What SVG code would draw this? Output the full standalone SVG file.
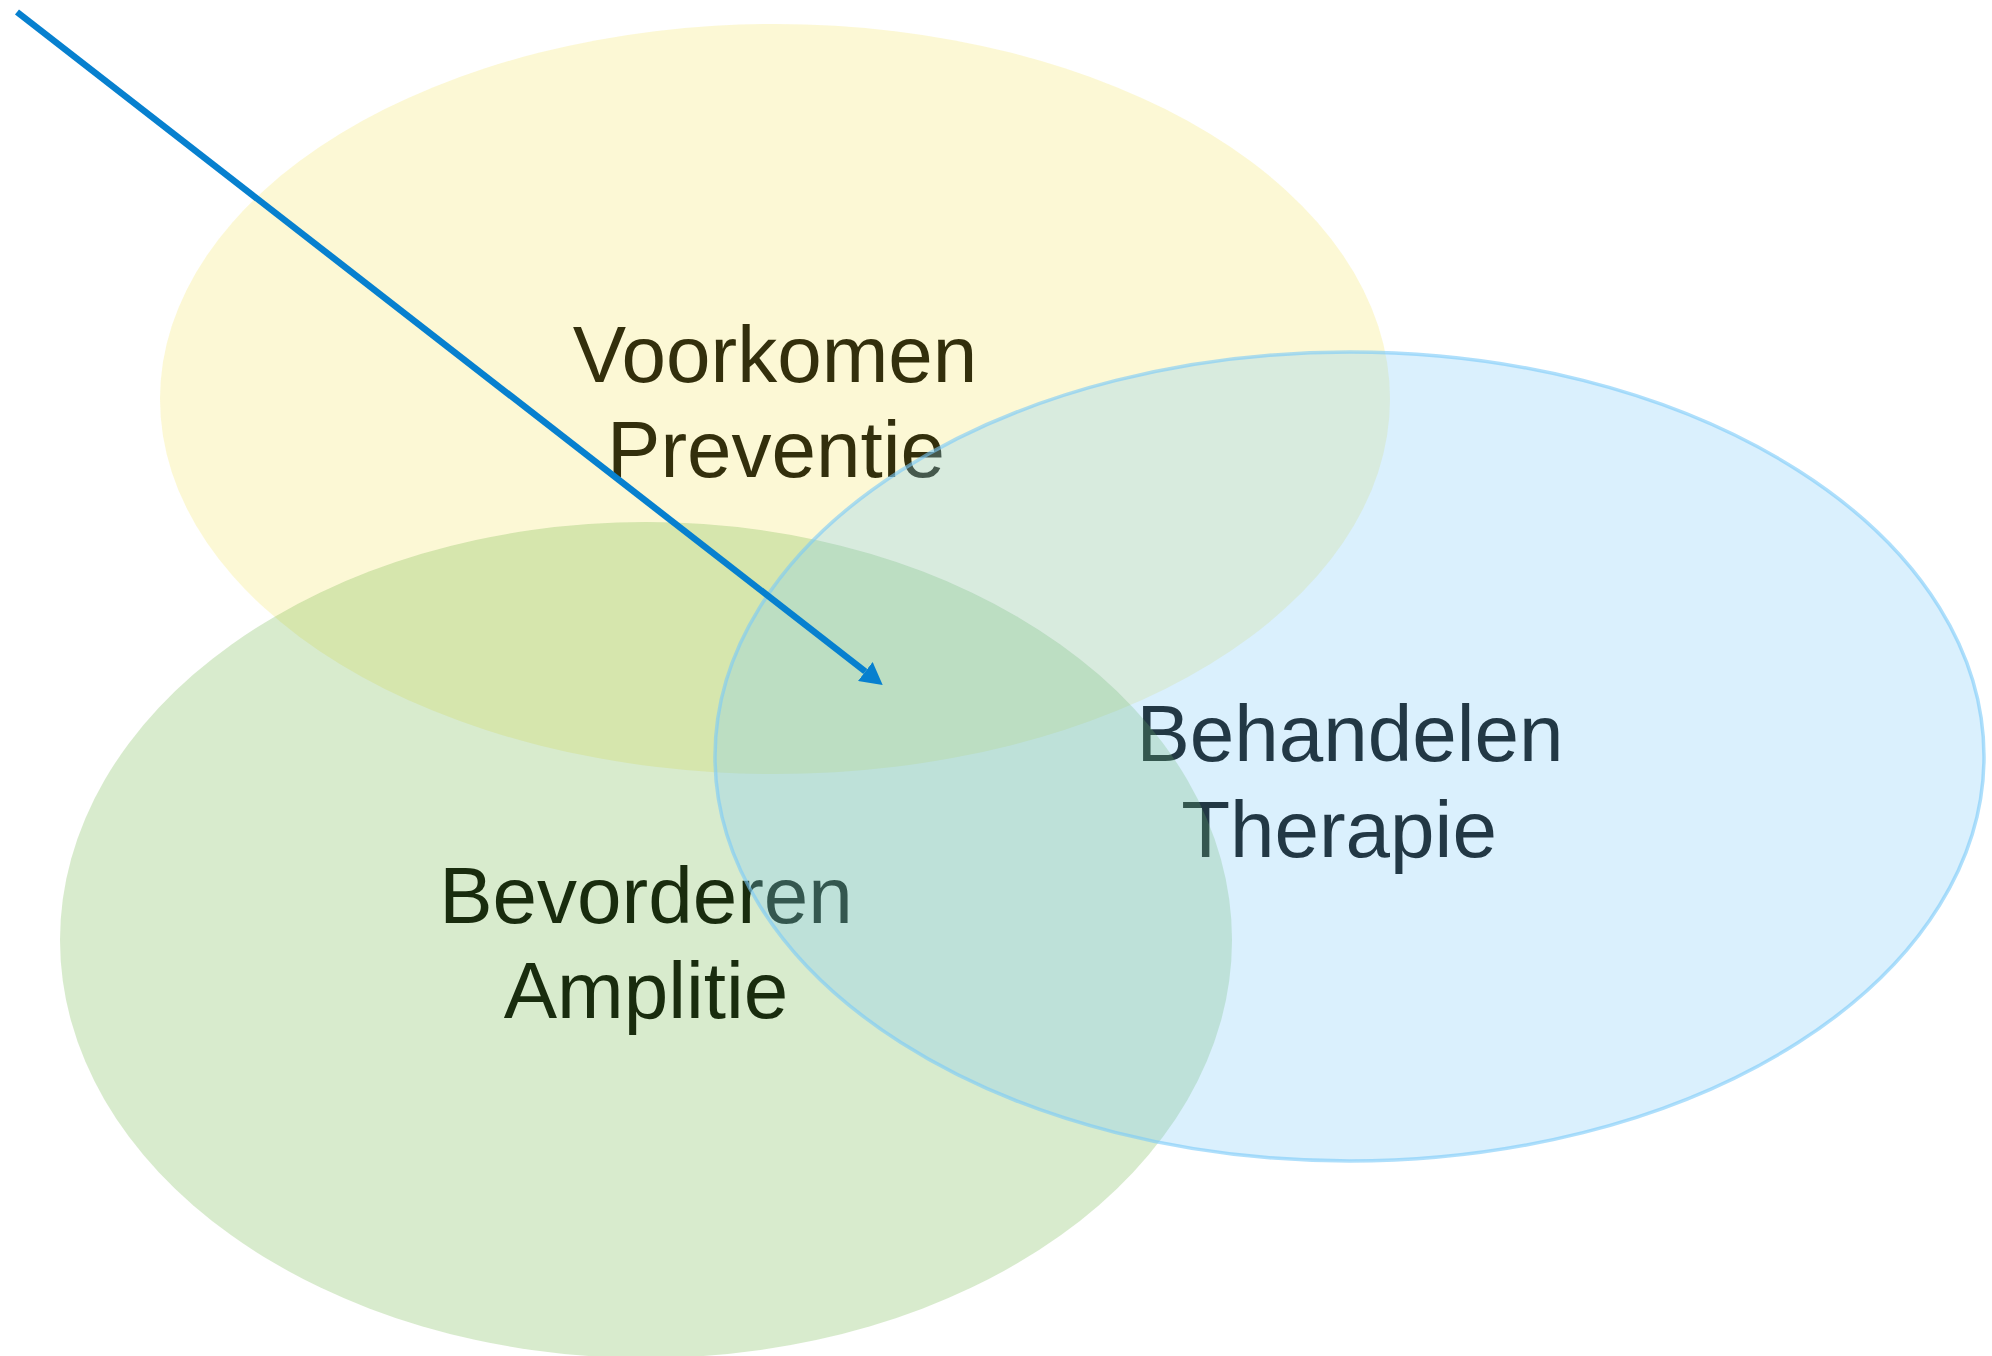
<svg xmlns="http://www.w3.org/2000/svg" width="1992" height="1356" viewBox="0 0 1992 1356">
<defs>
<style>
.lbl{font-family:"Liberation Sans",Arial,sans-serif;font-size:80px;fill:#000;text-anchor:middle}
.conn{stroke:#0780CF;stroke-width:6.5;fill:none}
</style>
<marker id="ah" markerUnits="userSpaceOnUse" viewBox="0 0 22 24" markerWidth="22" markerHeight="24" refX="0" refY="12" orient="auto">
<path d="M0,0 L22,12 L0,24 Z" fill="#0780CF"/>
</marker>
</defs>
<rect width="1992" height="1356" fill="#fff"/>
<g id="labels">
<text class="lbl" x="775" y="382">Voorkomen</text>
<text class="lbl" x="776" y="477">Preventie</text>
<text class="lbl" x="646" y="923">Bevorderen</text>
<text class="lbl" x="646" y="1018">Amplitie</text>
<text class="lbl" x="1350" y="761">Behandelen</text>
<text class="lbl" x="1339" y="857">Therapie</text>
</g>
<g id="node-voorkomen">
<ellipse cx="775" cy="399" rx="615" ry="375" fill="#F1DE37" fill-opacity="0.21"/>
</g>
<g id="node-bevorderen">
<ellipse cx="646" cy="940" rx="586" ry="418" fill="#63AF37" fill-opacity="0.25"/>
</g>
<g id="node-behandelen">
<ellipse cx="1349.5" cy="756.5" rx="634.5" ry="404.5" fill="#7AC9F8" fill-opacity="0.278" stroke="#7AC9F8" stroke-opacity="0.6" stroke-width="3.5"/>
</g>
<g id="connectors">
<line class="conn" x1="17" y1="12" x2="865.3" y2="671.5" marker-end="url(#ah)"/>
</g>
</svg>
